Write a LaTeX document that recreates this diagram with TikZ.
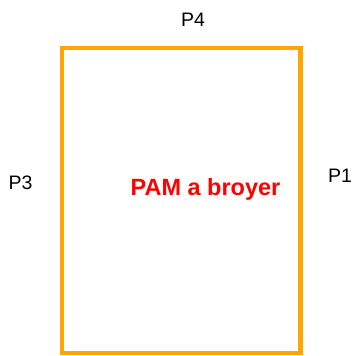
\documentclass[tikz,border=0pt]{standalone}
\usepackage{fontspec}
\setmainfont{Liberation Sans}
\definecolor{boxorange}{HTML}{FFA500}
\definecolor{labred}{HTML}{FF0000}
\begin{document}
\begin{tikzpicture}[x=1pt,y=-1pt,
  plabel/.style={inner sep=0pt,anchor=base,font=\fontsize{19.5}{22}\selectfont},
  mainlabel/.style={inner sep=0pt,anchor=base,text=labred,font=\fontsize{23.5}{27}\selectfont\bfseries},
  frame/.style={draw=boxorange,line width=4.2pt}]
\useasboundingbox (0,0) rectangle (353,356);
\draw[frame] (62,48) rectangle (300.5,353);
\node[plabel] (p4) at (193,27) {P4};
\node[plabel] (p3) at (20.5,189) {P3};
\node[plabel] (p1) at (340,182) {P1};
\node[mainlabel] (pam) at (205.5,195) {PAM a broyer};
\end{tikzpicture}
\end{document}
